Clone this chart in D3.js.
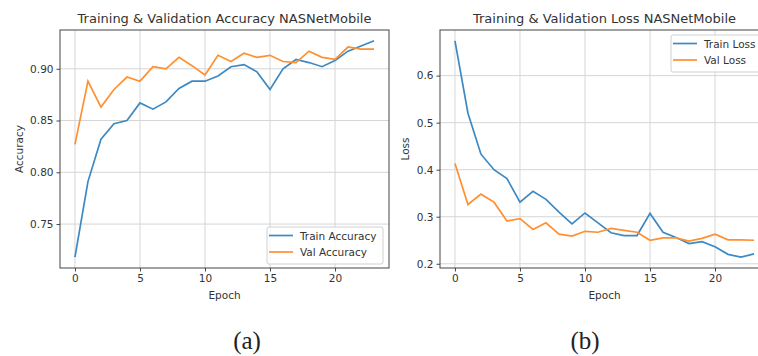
<!DOCTYPE html>
<html>
<head>
<meta charset="utf-8">
<script src="https://cdn.jsdelivr.net/npm/d3@7"></script>
<style>
  body { margin: 0; background: #fff; }
  svg { display: block; font-family: "DejaVu Sans", sans-serif; }
</style>
</head>
<body>
<div id="graf"></div>
<script>
const epochs = d3.range(0, 24)

const trainAcc = [0.718, 0.791, 0.832, 0.847, 0.850, 0.867, 0.861, 0.868, 0.881, 0.888, 0.888, 0.893,
  0.902, 0.904, 0.897, 0.880, 0.900, 0.909, 0.906, 0.902, 0.908, 0.917, 0.922, 0.927]
const valAcc = [0.827, 0.888, 0.863, 0.880, 0.892, 0.888, 0.902, 0.900, 0.911, 0.903, 0.894, 0.913,
  0.907, 0.915, 0.911, 0.913, 0.907, 0.906, 0.917, 0.911, 0.909, 0.921, 0.919, 0.919]

const trainLoss = [0.674, 0.520, 0.433, 0.400, 0.381, 0.331, 0.354, 0.337, 0.310, 0.285, 0.308, 0.287,
  0.266, 0.260, 0.260, 0.307, 0.267, 0.256, 0.243, 0.247, 0.236, 0.220, 0.214, 0.221]
const valLoss = [0.413, 0.326, 0.348, 0.331, 0.291, 0.296, 0.273, 0.287, 0.263, 0.259, 0.269, 0.267,
  0.275, 0.271, 0.267, 0.250, 0.255, 0.255, 0.248, 0.254, 0.263, 0.251, 0.251, 0.250]

const xTicks = [0, 5, 10, 15, 20]
const accTicks = [0.75, 0.80, 0.85, 0.90]
const lossTicks = [0.2, 0.3, 0.4, 0.5, 0.6]

const blue = "#3d89c3"
const orange = "#ff9030"

const svg = d3.select("#graf")
  .append("svg")
  .attr("width", 758)
  .attr("height", 356)

const panels = [
  {
    left: 60, top: 30, width: 329, height: 238,
    title: "Training & Validation Accuracy NASNetMobile",
    ylabel: "Accuracy", ylabelX: 19,
    series: [trainAcc, valAcc],
    names: ["Train Accuracy", "Val Accuracy"],
    yTicks: accTicks, fmt: d3.format(".2f"),
    legendX: 267, legendY: 227, legendW: 116,
    caption: "(a)", captionX: 247
  },
  {
    left: 440, top: 30, width: 329, height: 238,
    title: "Training & Validation Loss NASNetMobile",
    ylabel: "Loss", ylabelX: 405,
    series: [trainLoss, valLoss],
    names: ["Train Loss", "Val Loss"],
    yTicks: lossTicks, fmt: d3.format(".1f"),
    legendX: 671, legendY: 35, legendW: 93,
    caption: "(b)", captionX: 585
  }
]

panels.forEach(p => {
  const all = p.series.flat()
  const lo = d3.min(all), hi = d3.max(all)
  const pad = (hi - lo) * 0.05

  const x = d3.scaleLinear().domain([-1.15, 24.15]).range([0, p.width])
  const y = d3.scaleLinear().domain([lo - pad, hi + pad]).range([p.height, 0])

  const g = svg.append("g").attr("transform", `translate(${p.left}, ${p.top})`)

  // grid
  g.append("g").selectAll("line").data(xTicks).join("line")
    .attr("x1", d => x(d)).attr("x2", d => x(d))
    .attr("y1", 0).attr("y2", p.height)
    .attr("stroke", "#d6d6d6").attr("stroke-width", 1)
  g.append("g").selectAll("line").data(p.yTicks).join("line")
    .attr("x1", 0).attr("x2", p.width)
    .attr("y1", d => y(d)).attr("y2", d => y(d))
    .attr("stroke", "#d6d6d6").attr("stroke-width", 1)

  const line = d3.line().x((d, i) => x(epochs[i])).y(d => y(d))
  p.series.forEach((s, i) => {
    g.append("path").datum(s)
      .attr("d", line)
      .attr("fill", "none")
      .attr("stroke", i === 0 ? blue : orange)
      .attr("stroke-width", 1.7)
  })

  // axes
  const xAxis = g.append("g").attr("transform", `translate(0, ${p.height})`)
    .call(d3.axisBottom(x).tickValues(xTicks).tickSize(3.5).tickPadding(3))
  const yAxis = g.append("g")
    .call(d3.axisLeft(y).tickValues(p.yTicks).tickFormat(p.fmt).tickSize(3.5).tickPadding(3))
  ;[xAxis, yAxis].forEach(a => {
    a.select(".domain").remove()
    a.selectAll("line").attr("stroke", "#444")
    a.selectAll("text").attr("fill", "#333").style("font-size", "10.5px")
      .style("font-family", "DejaVu Sans")
  })

  g.append("rect")
    .attr("width", p.width).attr("height", p.height)
    .attr("fill", "none").attr("stroke", "#444").attr("stroke-width", 1)

  g.append("text")
    .attr("x", p.width / 2).attr("y", -7)
    .attr("text-anchor", "middle")
    .attr("fill", "#333").style("font-size", "13px")
    .text(p.title)

  g.append("text")
    .attr("x", x(11.5)).attr("y", p.height + 31)
    .attr("text-anchor", "middle")
    .attr("fill", "#333").style("font-size", "10.5px")
    .text("Epoch")

  svg.append("text")
    .attr("transform", `translate(${p.ylabelX}, ${p.top + p.height / 2}) rotate(-90)`)
    .attr("text-anchor", "middle")
    .attr("dy", "0.35em")
    .attr("fill", "#333").style("font-size", "10.5px")
    .text(p.ylabel)

  // legend
  const lg = svg.append("g").attr("transform", `translate(${p.legendX}, ${p.legendY})`)
  lg.append("rect")
    .attr("width", p.legendW).attr("height", 37).attr("rx", 2)
    .attr("fill", "rgba(255,255,255,0.8)").attr("stroke", "#d0d0d0")
  p.names.forEach((n, i) => {
    lg.append("line")
      .attr("x1", 2).attr("x2", 26)
      .attr("y1", 8.5 + i * 16.5).attr("y2", 8.5 + i * 16.5)
      .attr("stroke", i === 0 ? blue : orange).attr("stroke-width", 1.7)
    lg.append("text")
      .attr("x", 33).attr("y", 12.5 + i * 16.5)
      .attr("fill", "#333").style("font-size", "10.5px")
      .text(n)
  })

  svg.append("text")
    .attr("x", p.captionX).attr("y", 349)
    .attr("text-anchor", "middle")
    .attr("fill", "#222")
    .style("font-family", "Liberation Serif, serif")
    .style("font-size", "25px")
    .text(p.caption)
})
</script>
</body>
</html>
